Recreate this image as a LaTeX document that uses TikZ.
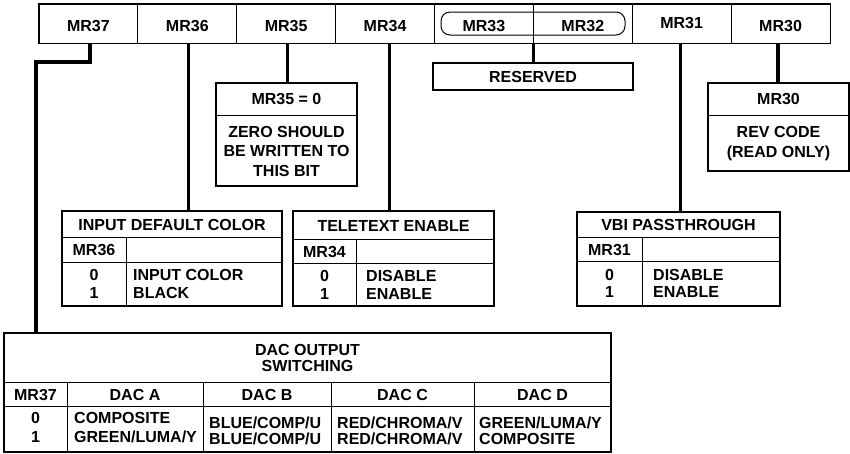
\documentclass[tikz,border=0pt]{standalone}
\usepackage{fontspec}
\setmainfont{Liberation Sans}
\begin{document}
\begin{tikzpicture}[x=1pt,y=-1pt,
  lbl/.style={font=\fontsize{16}{17.5}\selectfont\bfseries, inner sep=0pt},
  wide/.style={font=\fontsize{16}{19}\selectfont\bfseries},
  tight/.style={font=\fontsize{16}{16}\selectfont\bfseries},
  cellbox/.style={draw, line width=1pt, minimum width=98.875pt, minimum height=39pt, inner sep=0pt},
  outline/.style={draw, line width=1.6pt, inner sep=0pt},
  conn/.style={line width=3.2pt},
  div/.style={line width=1pt}]
\useasboundingbox (0,0) rectangle (850,453);

% register cells
\node[cellbox] (c37) at (88.4375,23.5) {};
\node[cellbox] (c36) at (187.3125,23.5) {};
\node[cellbox] (c35) at (286.1875,23.5) {};
\node[cellbox] (c34) at (385.0625,23.5) {};
\node[cellbox] (c33) at (483.9375,23.5) {};
\node[cellbox] (c32) at (582.8125,23.5) {};
\node[cellbox] (c31) at (681.6875,23.5) {};
\node[cellbox] (c30) at (780.5625,23.5) {};
\draw[line width=1.8pt] (c37.north west) rectangle (c30.south east);
\node[draw, line width=1pt, rounded corners=9pt, minimum width=184pt, minimum height=23pt, inner sep=0pt] (rsv) at (533,23.5) {};
\node[lbl] (l37) at (88.4375,26) {MR37};
\node[lbl] (l36) at (187.3125,26) {MR36};
\node[lbl] (l35) at (286.1875,26) {MR35};
\node[lbl] (l34) at (385.0625,26) {MR34};
\node[lbl] (l33) at (483.9375,26) {MR33};
\node[lbl] (l32) at (582.8125,26) {MR32};
\node[lbl] (l31) at (681.6875,23) {MR31};
\node[lbl] (l30) at (780.5625,26) {MR30};

% RESERVED
\node[outline, minimum width=200pt, minimum height=27pt] (res) at (533,76.5) {};
\node[lbl] (tres) at (533,76.5) {RESERVED};

% MR35 box
\node[outline, minimum width=141pt, minimum height=103pt] (b35) at (286.5,134.5) {};
\draw[div] (216,115) -- (357,115);
\node[lbl] (t35) at (286.5,99.5) {MR35 = 0};
\node[lbl, align=center, font=\fontsize{16}{19.5}\selectfont\bfseries] (d35) at (286.5,151) {ZERO SHOULD\\BE WRITTEN TO\\THIS BIT};

% MR30 box
\node[outline, minimum width=141pt, minimum height=88pt] (b30) at (778.5,127) {};
\draw[div] (708,115) -- (849,115);
\node[lbl] (t30) at (778.5,99.5) {MR30};
\node[lbl, align=center, font=\fontsize{16}{20}\selectfont\bfseries] (d30) at (778.5,143.5) {REV CODE\\(READ ONLY)};

% INPUT DEFAULT COLOR
\node[outline, minimum width=220pt, minimum height=95pt] (b36) at (172,258.5) {};
\draw[div] (62,237) -- (282,237);
\draw[div] (62,262) -- (282,262);
\draw[div] (126,237) -- (126,306);
\node[lbl] (t36) at (172,224.5) {INPUT DEFAULT COLOR};
\node[lbl] (h36) at (94,249.5) {MR36};
\node[lbl, align=center] (v36) at (94,284) {0\\1};
\node[lbl, align=left, anchor=west] (d36) at (133,284) {INPUT COLOR\\BLACK};

% TELETEXT ENABLE
\node[outline, minimum width=201pt, minimum height=95pt] (b34) at (393.5,258.5) {};
\draw[div] (293,239) -- (494,239);
\draw[div] (293,263) -- (494,263);
\draw[div] (356,239) -- (356,306);
\node[lbl] (t34) at (393.5,225.5) {TELETEXT ENABLE};
\node[lbl] (h34) at (324.5,251.5) {MR34};
\node[lbl, align=center] (v34) at (324.5,285) {0\\1};
\node[lbl, align=left, anchor=west] (d34) at (366,285) {DISABLE\\ENABLE};

% VBI PASSTHROUGH
\node[outline, minimum width=203pt, minimum height=94pt] (b31) at (678.5,259) {};
\draw[div] (577,237) -- (780,237);
\draw[div] (577,261) -- (780,261);
\draw[div] (642,237) -- (642,306);
\node[lbl] (t31) at (678.5,224.5) {VBI PASSTHROUGH};
\node[lbl] (h31) at (609.5,249.5) {MR31};
\node[lbl, align=center] (v31) at (609.5,283.5) {0\\1};
\node[lbl, align=left, anchor=west] (d31) at (653,283.5) {DISABLE\\ENABLE};

% DAC OUTPUT SWITCHING
\node[outline, minimum width=607pt, minimum height=119pt] (b37) at (307.5,392.5) {};
\draw[div] (4,382) -- (611,382);
\draw[div] (4,406) -- (611,406);
\draw[div] (67,382) -- (67,452);
\draw[div] (203,382) -- (203,452);
\draw[div] (331,382) -- (331,452);
\draw[div] (474,382) -- (474,452);
\node[lbl, align=center, font=\fontsize{16}{16.5}\selectfont\bfseries] (t37) at (307.5,358) {DAC OUTPUT\\SWITCHING};
\node[lbl] (h37) at (35.5,394.5) {MR37};
\node[lbl] (ha) at (135,394.5) {DAC A};
\node[lbl] (hb) at (267,394.5) {DAC B};
\node[lbl] (hc) at (402.5,394.5) {DAC C};
\node[lbl] (hd) at (542.5,394.5) {DAC D};
\node[lbl, wide, align=center] (v37) at (35.5,427.5) {0\\1};
\node[lbl, wide, align=left, anchor=west] (da) at (74,427.5) {COMPOSITE\\GREEN/LUMA/Y};
\node[lbl, tight, align=left, anchor=west] (db) at (209,431) {BLUE/COMP/U\\BLUE/COMP/U};
\node[lbl, tight, align=left, anchor=west] (dc) at (337,431) {RED/CHROMA/V\\RED/CHROMA/V};
\node[lbl, tight, align=left, anchor=west] (dd) at (479,431) {GREEN/LUMA/Y\\COMPOSITE};

% connectors
\coordinate (k37) at (36,62);
\draw[conn] ([xshift=1.5pt]c37.south) |- (k37) -- (k37 |- b37.north);
\draw[conn] ([xshift=1.5pt]c36.south) -- ([xshift=1.5pt]c36.south |- b36.north);
\draw[conn] ([xshift=1.5pt]c35.south) -- ([xshift=1.5pt]c35.south |- b35.north);
\draw[conn] ([xshift=4.5pt]c34.south) -- ([xshift=4.5pt]c34.south |- b34.north);
\draw[conn] (c33.south east) -- (c33.south east |- res.north);
\draw[conn] ([xshift=-1.5pt]c31.south) -- ([xshift=-1.5pt]c31.south |- b31.north);
\draw[conn] ([xshift=-2.5pt]c30.south) -- ([xshift=-2.5pt]c30.south |- b30.north);
\end{tikzpicture}
\end{document}
